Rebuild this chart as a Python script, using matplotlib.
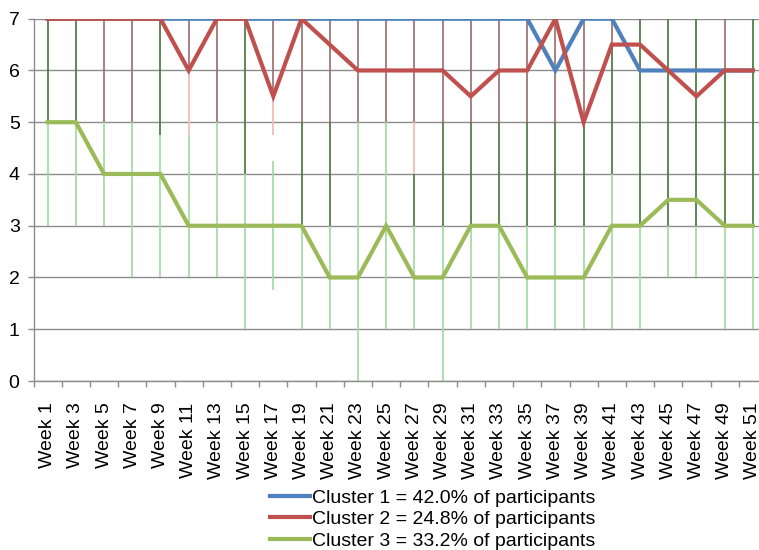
import numpy as np
import matplotlib
matplotlib.use("Agg")
import matplotlib.pyplot as plt
from matplotlib.ticker import FixedLocator

plt.rcParams['font.family'] = ['Liberation Sans', 'DejaVu Sans']

week_labels = ["Week 1", "Week 3", "Week 5", "Week 7", "Week 9", "Week 11",
               "Week 13", "Week 15", "Week 17", "Week 19", "Week 21", "Week 23",
               "Week 25", "Week 27", "Week 29", "Week 31", "Week 33", "Week 35",
               "Week 37", "Week 39", "Week 41", "Week 43", "Week 45", "Week 47",
               "Week 49", "Week 51"]

cluster1 = [7, 7, 7, 7, 7, 7, 7, 7, 7, 7, 7, 7, 7, 7, 7, 7, 7, 7,
            6, 7, 7, 6, 6, 6, 6, 6]
cluster2 = [7, 7, 7, 7, 7, 6, 7, 7, 5.5, 7, 6.5, 6, 6, 6, 6, 5.5, 6, 6,
            7, 5, 6.5, 6.5, 6, 5.5, 6, 6]
cluster3 = [5, 5, 4, 4, 4, 3, 3, 3, 3, 3, 2, 2, 3, 2, 2, 3, 3, 2,
            2, 2, 3, 3, 3.5, 3.5, 3, 3]

legend_labels = ["Cluster 1 = 42.0% of participants",
                 "Cluster 2 = 24.8% of participants",
                 "Cluster 3 = 33.2% of participants"]

nan = np.nan
# spread lines per week: red-brown (upper, to 7), dark green, pink, light green
brown_lo = [nan, nan, 5, 5, nan, 6, 5, nan, 5.5, 5, 5, 5, 5, 5, 5, 5, 5, 5,
            5, 5, 6.5, nan, nan, nan, 6, nan]
brown_hi = [nan, nan, 7, 7, nan, 7, 7, nan, 7, 7, 7, 7, 7, 7, 7, 7, 7, 7,
            7, 7, 7, nan, nan, nan, 7, nan]
dark_lo = [5, 5, nan, nan, 4.75, nan, nan, 4, nan, 3, 3, nan, nan, 3, 3, 3, 3, 3,
           3, 3, 4, 3, 3, 3, 3, 3]
dark_hi = [7, 7, nan, nan, 7, nan, nan, 7, nan, 5, 5, nan, nan, 4, 5, 5, 5, 5,
           5, 5, 6.5, 7, 7, 7, 6, 7]
pink_lo = [nan, nan, nan, nan, nan, 4.75, nan, nan, 4.75, nan, nan, nan, nan, 4, nan, nan, nan, nan,
           nan, nan, nan, nan, nan, nan, nan, nan]
pink_hi = [nan, nan, nan, nan, nan, 6, nan, nan, 5.5, nan, nan, nan, nan, 5, nan, nan, nan, nan,
           nan, nan, nan, nan, nan, nan, nan, nan]
light_lo = [3, 3, 3, 2, 2, 2, 2, 1, 1.75, 1, 1, 0, 1, 1, 0, 1, 1, 1,
            1, 1, 1, 1, 2, 2, 1, 1]
light_hi = [5, 5, 5, 5, 4.75, 4.75, 5, 4, 4.25, 3, 3, 5, 5, 3, 3, 3, 3, 3,
            3, 3, 4, 3, 3, 3, 3, 3]

W, H = 759, 550
FS = 14
fig = plt.figure(figsize=(W / 100, H / 100), dpi=100)
ax = fig.add_axes([33.5 / W, 1 - 381 / H, (767 - 33.5) / W, (381 - 18.7) / H])

x = np.arange(len(week_labels))


def spread(lo, hi, color, lw=1.25):
    lo = np.asarray(lo, float)
    hi = np.asarray(hi, float)
    m = ~np.isnan(lo)
    ax.vlines(x[m], lo[m], hi[m], colors=color, linewidth=lw, zorder=2)


spread(light_lo, light_hi, '#a3dba3')
spread(pink_lo, pink_hi, '#efbcbc')
spread(brown_lo, brown_hi, '#9e7270')
spread(dark_lo, dark_hi, '#4c7a40')

ax.plot(x, cluster1, color='#4f81bd', lw=3.0, solid_joinstyle='miter', zorder=4, label=legend_labels[0])
ax.plot(x, cluster2, color='#c0504d', lw=3.0, solid_joinstyle='miter', zorder=5, label=legend_labels[1])
ax.plot(x, cluster3, color='#9bbb59', lw=3.0, solid_joinstyle='miter', zorder=3, label=legend_labels[2])

ax.set_xlim(-0.5, len(week_labels) - 0.5)
ax.set_ylim(0, 7)
ax.set_yticks(range(0, 8))
ax.yaxis.grid(True, color='#8c8c8c', linewidth=1.0)
ax.set_axisbelow(True)

ax.set_xticks(x)
ax.set_xticklabels(week_labels, rotation=90, fontsize=FS)
ax.xaxis.set_minor_locator(FixedLocator(np.arange(-0.5, len(week_labels), 1.0)))
ax.tick_params(axis='x', which='major', length=0, pad=15.5)
ax.tick_params(axis='x', which='minor', length=4, width=1, color='#8c8c8c')
ax.tick_params(axis='y', length=4, width=1, color='#8c8c8c', labelsize=FS, pad=6)

for side in ('top', 'right'):
    ax.spines[side].set_visible(False)
for side in ('left', 'bottom'):
    ax.spines[side].set_color('#8c8c8c')
    ax.spines[side].set_linewidth(1.0)

handles, labels = ax.get_legend_handles_labels()
fig.legend(handles, labels, loc='upper left', bbox_to_anchor=(270 / W, 1 - 489 / H),
           frameon=False, fontsize=FS, handlelength=2.05, handletextpad=0.12,
           labelspacing=0.2, borderpad=0, borderaxespad=0)

fig.savefig('out.png', dpi=100)
